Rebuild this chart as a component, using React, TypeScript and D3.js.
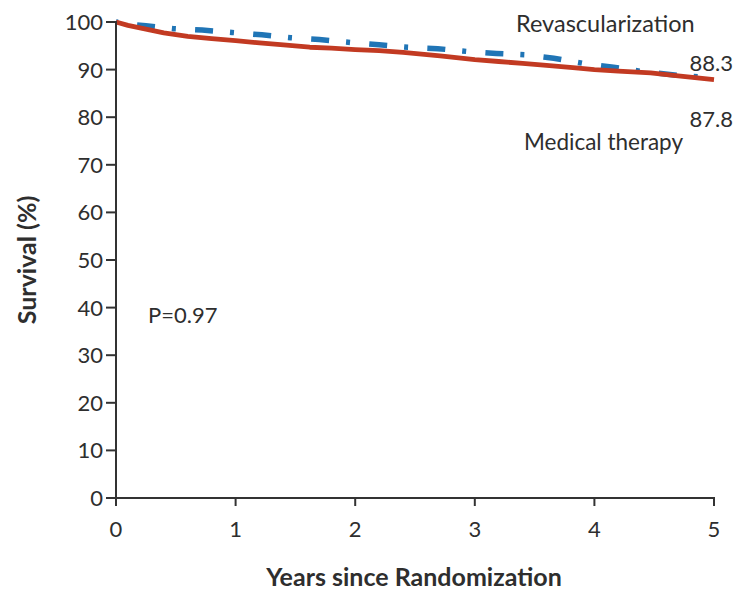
import React from "react";
import * as d3 from "d3";

const yTicks = [0, 10, 20, 30, 40, 50, 60, 70, 80, 90, 100];
const xTicks = [0, 1, 2, 3, 4, 5];

const medYears = [0, 0.1, 0.25, 0.4, 0.6, 0.8, 1.0, 1.2, 1.4, 1.62, 1.8, 2.0, 2.2, 2.4, 2.71, 3.0, 3.2, 3.4, 3.6, 3.82, 4.0, 4.2, 4.47, 4.7, 5.0];
const medSurv = [100, 99.3, 98.5, 97.7, 97.0, 96.5, 96.1, 95.6, 95.2, 94.7, 94.5, 94.2, 94.0, 93.6, 92.9, 92.1, 91.7, 91.3, 90.9, 90.4, 90.0, 89.7, 89.3, 88.7, 87.9];

const revYears = [0, 0.1, 0.25, 0.48, 0.72, 0.97, 1.22, 1.46, 1.7, 1.96, 2.2, 2.44, 2.69, 2.94, 3.18, 3.43, 3.66, 3.91, 4.16, 4.4, 4.7, 5.0];
const revSurv = [100, 99.6, 99.2, 98.6, 98.3, 97.8, 97.3, 96.7, 96.3, 95.7, 95.2, 94.7, 94.4, 93.8, 93.4, 93.1, 92.4, 91.3, 90.5, 89.6, 88.8, 88.2];

const labels = {
  rev: "Revascularization",
  med: "Medical therapy",
  revEnd: "88.3",
  medEnd: "87.8",
  p: "P=0.97",
  xTitle: "Years since Randomization",
  yTitle: "Survival (%)",
};

const W = 738;
const H = 590;
const FONT = "Lato, 'Open Sans', sans-serif";
const TEXT = "#2e2e2e";

export default function App() {
  const x = d3.scaleLinear().domain([0, 5]).range([116, 714]);
  const y = d3.scaleLinear().domain([0, 100]).range([498, 22]);

  const line = d3
    .line<[number, number]>()
    .x((d) => x(d[0]))
    .y((d) => y(d[1]))
    .curve(d3.curveLinear);

  const med = medYears.map((t, i) => [t, medSurv[i]] as [number, number]);
  const rev = revYears.map((t, i) => [t, revSurv[i]] as [number, number]);

  return (
    <svg
      width={W}
      height={H}
      viewBox={`0 0 ${W} ${H}`}
      style={{ position: "absolute", left: 0, top: 0, background: "#fff" }}
      fontFamily={FONT}
    >
      <rect x={0} y={0} width={W} height={H} fill="#fff" />
      {/* curves */}
      <path
        d={line(rev) || ""}
        fill="none"
        stroke="#2075b6"
        strokeWidth={5.5}
        strokeDasharray="18,17,4,19.25"
        strokeDashoffset={37}
      />
      <path d={line(med) || ""} fill="none" stroke="#c23a22" strokeWidth={4.8} strokeLinejoin="round" />

      {/* axes */}
      <line x1={x(0)} x2={x(0)} y1={y(100) - 1} y2={y(0) + 1} stroke="#333" strokeWidth={2} />
      <line x1={x(0) - 1} x2={x(5) + 1} y1={y(0)} y2={y(0)} stroke="#333" strokeWidth={2} />
      {yTicks.map((t) => (
        <g key={"y" + t}>
          <line x1={x(0) - 10} x2={x(0)} y1={y(t)} y2={y(t)} stroke="#333" strokeWidth={2} />
          <text x={x(0) - 13} y={y(t)} dy="0.36em" textAnchor="end" fontSize={22} fill={TEXT}>
            {t}
          </text>
        </g>
      ))}
      {xTicks.map((t) => (
        <g key={"x" + t}>
          <line x1={x(t)} x2={x(t)} y1={y(0)} y2={y(0) + 8} stroke="#333" strokeWidth={2} />
          <text x={x(t)} y={537} textAnchor="middle" fontSize={22} fill={TEXT}>
            {t}
          </text>
        </g>
      ))}

      {/* titles */}
      <text x={414} y={586} textAnchor="middle" fontSize={25} fontWeight="bold" fill={TEXT}>
        {labels.xTitle}
      </text>
      <text
        transform={`translate(36,260) rotate(-90)`}
        textAnchor="middle"
        fontSize={25}
        fontWeight="bold"
        fill={TEXT}
      >
        {labels.yTitle}
      </text>

      {/* annotations */}
      <text x={516} y={32} fontSize={23.5} fill={TEXT}>
        {labels.rev}
      </text>
      <text x={733} y={71} textAnchor="end" fontSize={22} fill={TEXT}>
        {labels.revEnd}
      </text>
      <text x={733} y={127} textAnchor="end" fontSize={22} fill={TEXT}>
        {labels.medEnd}
      </text>
      <text x={524} y={150} fontSize={22.5} fill={TEXT}>
        {labels.med}
      </text>
      <text x={148} y={323} fontSize={22} fill={TEXT}>
        {labels.p}
      </text>
    </svg>
  );
}
